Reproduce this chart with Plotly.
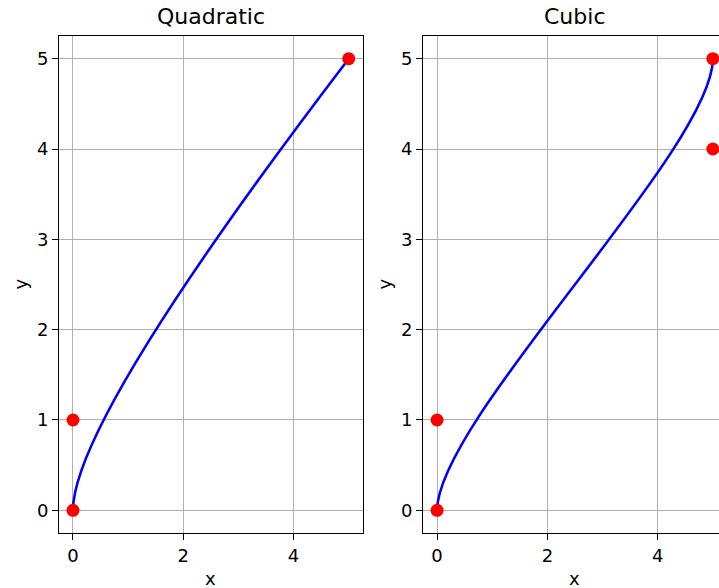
import plotly.graph_objects as go

# Control points
quad_x = [0, 0, 5]
quad_y = [0, 1, 5]
cubic_x = [0, 0, 5, 5]
cubic_y = [0, 1, 4, 5]
titles = ["Quadratic", "Cubic"]
x_ticks = [0, 2, 4]
y_ticks = [0, 1, 2, 3, 4, 5]

W, H = 719, 588
FONT = "DejaVu Sans"

fig = go.Figure()

fig.add_trace(go.Scatter(x=quad_x, y=quad_y, mode="markers", xaxis="x", yaxis="y",
                         marker=dict(color="red", size=13), showlegend=False, cliponaxis=False))
fig.add_trace(go.Scatter(x=cubic_x, y=cubic_y, mode="markers", xaxis="x2", yaxis="y2",
                         marker=dict(color="red", size=13), showlegend=False, cliponaxis=False))

qpath = "M {},{} Q {},{} {},{}".format(quad_x[0], quad_y[0], quad_x[1], quad_y[1], quad_x[2], quad_y[2])
cpath = "M {},{} C {},{} {},{} {},{}".format(cubic_x[0], cubic_y[0], cubic_x[1], cubic_y[1],
                                             cubic_x[2], cubic_y[2], cubic_x[3], cubic_y[3])
fig.add_shape(type="path", path=qpath, xref="x", yref="y", line=dict(color="blue", width=2.6), layer="between")
fig.add_shape(type="path", path=cpath, xref="x2", yref="y2", line=dict(color="blue", width=2.6), layer="between")

ydom = [1 - 532.9 / H, 1 - 36.1 / H]
d1 = [59.2 / W, 362.5 / W]
d2 = [423.3 / W, 1.0]

axis_common = dict(showgrid=True, gridcolor="#b0b0b0", gridwidth=1.3, zeroline=False,
                   showline=True, linecolor="black", linewidth=1.3,
                   ticks="outside", ticklen=6, tickwidth=1.3, tickcolor="black",
                   tickfont=dict(family=FONT, size=18, color="black"))

fig.update_layout(
    width=W, height=H,
    margin=dict(l=0, r=0, t=0, b=0),
    plot_bgcolor="white", paper_bgcolor="white",
    xaxis=dict(domain=d1, range=[-0.25, 5.25], tickvals=x_ticks, mirror=True, anchor="y", **axis_common),
    yaxis=dict(domain=ydom, range=[-0.25, 5.25], tickvals=y_ticks, mirror=True, anchor="x", **axis_common),
    xaxis2=dict(domain=d2, range=[-0.25, (719 - 437) / 55.17], tickvals=x_ticks, mirror=True, anchor="y2", **axis_common),
    yaxis2=dict(domain=ydom, range=[-0.25, 5.25], tickvals=y_ticks, mirror=False, anchor="x2", **axis_common),
)

ann = []
for d, t in zip([d1, [423.3 / W, 726.6 / W]], titles):
    cx = (d[0] + d[1]) / 2
    ann.append(dict(text=t, x=cx, y=1 - 17 / H, xref="paper", yref="paper", showarrow=False,
                    xanchor="center", yanchor="middle", font=dict(family=FONT, size=22, color="black")))
    ann.append(dict(text="x", x=cx, y=1 - 578 / H, xref="paper", yref="paper", showarrow=False,
                    xanchor="center", yanchor="middle", font=dict(family=FONT, size=18, color="black")))
for xp in [19.5, 383.5]:
    ann.append(dict(text="y", x=xp / W, y=1 - 284 / H, xref="paper", yref="paper", showarrow=False, textangle=-90,
                    xanchor="center", yanchor="middle", font=dict(family=FONT, size=18, color="black")))
fig.update_layout(annotations=ann)

fig.write_html("out.html", config={"displayModeBar": False},
               post_script="document.body.style.margin='0';document.body.style.overflow='hidden';")
